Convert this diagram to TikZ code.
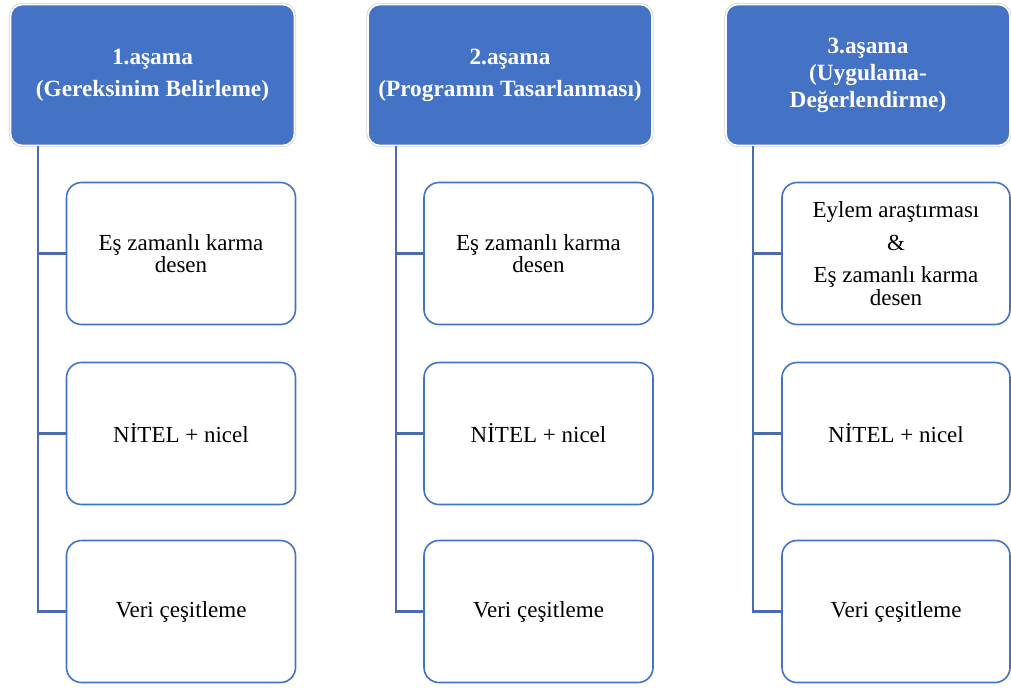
\documentclass[tikz,border=0pt]{standalone}
\usepackage{fontspec}
\setmainfont{Liberation Serif}
\definecolor{hdrblue}{HTML}{4472C4}
\definecolor{linkblue}{HTML}{4A6CAE}
\begin{document}
\begin{tikzpicture}[x=1pt,y=-1pt,
  header/.style={rounded corners=12pt, fill=hdrblue, draw=white, line width=1.6pt,
    preaction={draw=black!18, line width=3.2pt},
    minimum width=284pt, minimum height=141pt, inner sep=0pt, align=center,
    text=white, font=\bfseries\fontsize{23.3}{27}\selectfont},
  child/.style={rounded corners=15pt, draw=hdrblue, line width=1.6pt, fill=white,
    minimum width=229pt, minimum height=142pt, inner sep=0pt, align=center,
    font=\fontsize{23}{22.5}\selectfont},
  conn/.style={draw=linkblue, line width=2.3pt}]
\useasboundingbox (0,0) rectangle (1011,688);

% headers
\node[header] (h1) at (152.5,75) {1.aşama\\[5pt](Gereksinim Belirleme)};
\node[header] (h2) at (510,75) {2.aşama\\[5pt](Programın Tasarlanması)};
\node[header] (h3) at (868,75) {3.aşama\\(Uygulama-\\Değerlendirme)};

% children column 1
\node[child] (c11) at (181,253.5) {Eş zamanlı karma\\desen};
\node[child] (c12) at (181,433.5) {NİTEL + nicel};
\node[child] (c13) at (181,611.5) {Veri çeşitleme};
% column 2
\node[child] (c21) at (538.5,253.5) {Eş zamanlı karma\\desen};
\node[child] (c22) at (538.5,433.5) {NİTEL + nicel};
\node[child] (c23) at (538.5,611.5) {Veri çeşitleme};
% column 3
\node[child, minimum width=228pt] (c31) at (896,253.5) {Eylem araştırması\\[10pt]\&\\[10pt]Eş zamanlı karma\\desen};
\node[child, minimum width=228pt] (c32) at (896,433.5) {NİTEL + nicel};
\node[child, minimum width=228pt] (c33) at (896,611.5) {Veri çeşitleme};

% trunk starts
\coordinate (t1) at (38,146);
\coordinate (t2) at (396,146);
\coordinate (t3) at (753,146);

\foreach \i in {1,2,3}{
  \draw[conn] (t\i) |- (c\i3.west);
  \draw[conn] (t\i |- c\i1.west) -- (c\i1.west);
  \draw[conn] (t\i |- c\i2.west) -- (c\i2.west);
}
\end{tikzpicture}
\end{document}
